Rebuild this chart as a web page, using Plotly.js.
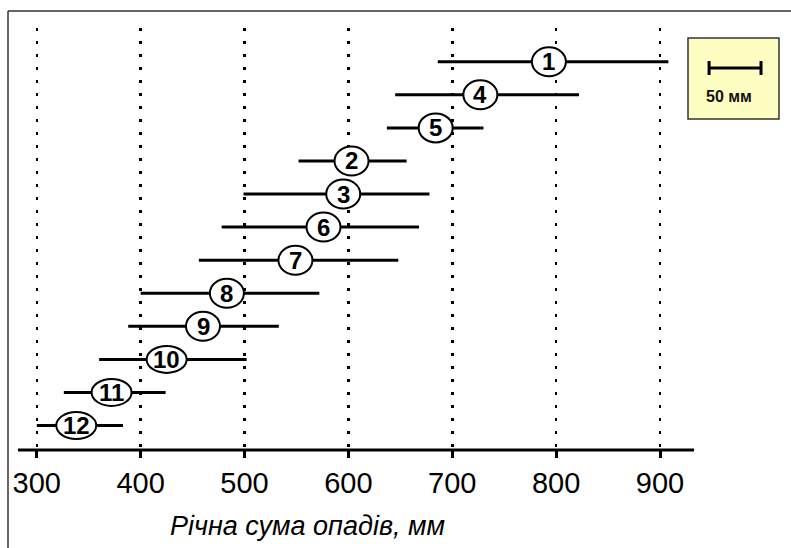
<!DOCTYPE html>
<html>
<head>
<meta charset="utf-8">
<script src="https://cdn.plot.ly/plotly-3.0.1.min.js"></script>
<style>html,body{margin:0;padding:0;background:#fff;}#chart{width:791px;height:548px;}</style>
</head>
<body>
<div id="chart"></div>
<script>
// ---- data, top row first ----
const stationLabels = ["1","4","5","2","3","6","7","8","9","10","11","12"];
const lowMM  = [686, 645, 637, 552, 499, 478, 456, 400, 388, 360, 326, 300];
const meanMM = [793, 727, 684, 603, 595, 576, 549, 483, 460, 425, 372, 338];
const highMM = [908, 822, 730, 656, 678, 668, 648, 572, 533, 502, 424, 383];
const rowRank = [1, 2, 3, 4, 5, 6, 7, 8, 9, 10, 11, 12];
const tickValues = [300, 400, 500, 600, 700, 800, 900];
const tickLabels = ["300", "400", "500", "600", "700", "800", "900"];
const scaleBarMM = 50;
const scaleBarLabel = "50 мм";
const axisTitle = "Річна сума опадів, мм";

// ---- layout geometry ----
const W = 791, H = 548;
const mL = 18, mR = 9, mT = 28, mB = 98;
const plotW = W - mL - mR, plotH = H - mT - mB;
const xRange = [281.9, 1017.4];
const yRange = [12.74, -0.02];
const px2paperX = p => (p - mL) / plotW;
const py2paperY = p => (H - mB - p) / plotH;
const FONT = "Liberation Sans, Arial, sans-serif";

// bars: line segments lo..hi
const barX = [], barY = [];
for (let i = 0; i < stationLabels.length; i++) {
  barX.push(lowMM[i], highMM[i], null);
  barY.push(rowRank[i], rowRank[i], null);
}

const traces = [{
  type: "scatter", mode: "lines", x: barX, y: barY,
  line: {color: "#000", width: 3}, hoverinfo: "skip", showlegend: false
}];

const shapes = [];
const annotations = [];
for (let i = 0; i < stationLabels.length; i++) {
  const two = stationLabels[i].length > 1;
  const hw = two ? 20 : 17, hh = two ? 13.5 : 14.5;
  shapes.push({
    type: "circle", xref: "x", yref: "y", xsizemode: "pixel", ysizemode: "pixel",
    xanchor: meanMM[i], yanchor: rowRank[i], x0: -hw, x1: hw, y0: -hh, y1: hh,
    fillcolor: "#fff", line: {color: "#000", width: 2}, layer: "above"
  });
  annotations.push({
    x: meanMM[i], y: rowRank[i], xref: "x", yref: "y", showarrow: false,
    xanchor: "center", yanchor: "middle",
    text: "<b>" + stationLabels[i] + "</b>",
    font: {family: FONT, size: 24, color: "#000"}
  });
}

// x axis line (ends short of the plot's right edge)
shapes.push({type: "line", xref: "x", yref: "paper", x0: xRange[0], x1: 932.7, y0: 0, y1: 0,
  line: {color: "#000", width: 3}, layer: "above"});
// outer frame (left and top)
shapes.push({type: "line", xref: "paper", yref: "paper", x0: px2paperX(8), x1: px2paperX(8),
  y0: py2paperY(11), y1: py2paperY(548), line: {color: "#333", width: 1.5}});
shapes.push({type: "line", xref: "paper", yref: "paper", x0: px2paperX(8), x1: px2paperX(791),
  y0: py2paperY(11), y1: py2paperY(11), line: {color: "#333", width: 1.5}});
// scale legend box
shapes.push({type: "rect", xref: "paper", yref: "paper", x0: px2paperX(688), x1: px2paperX(779),
  y0: py2paperY(119), y1: py2paperY(38), fillcolor: "#FFFEC2", line: {color: "#333", width: 1.5}, layer: "above"});
const sbC = 972.2, sbY = py2paperY(68), cap = 7 / plotH;
shapes.push({type: "line", xref: "x", yref: "paper", x0: sbC - scaleBarMM / 2, x1: sbC + scaleBarMM / 2,
  y0: sbY, y1: sbY, line: {color: "#000", width: 3}, layer: "above"});
shapes.push({type: "line", xref: "x", yref: "paper", x0: sbC - scaleBarMM / 2, x1: sbC - scaleBarMM / 2,
  y0: sbY - cap, y1: sbY + cap, line: {color: "#000", width: 3}, layer: "above"});
shapes.push({type: "line", xref: "x", yref: "paper", x0: sbC + scaleBarMM / 2, x1: sbC + scaleBarMM / 2,
  y0: sbY - cap, y1: sbY + cap, line: {color: "#000", width: 3}, layer: "above"});
annotations.push({xref: "x", yref: "paper", x: 966.4, y: py2paperY(97), showarrow: false,
  xanchor: "center", yanchor: "middle",
  text: "<b>" + scaleBarLabel + "</b>", font: {family: FONT, size: 16, color: "#111"}});
// axis title
annotations.push({xref: "x", yref: "paper", x: 561, y: py2paperY(526), showarrow: false,
  xanchor: "center", yanchor: "middle",
  text: "<i>" + axisTitle + "</i>", font: {family: FONT, size: 27, color: "#000"}});

const layout = {
  width: W, height: H,
  margin: {l: mL, r: mR, t: mT, b: mB, pad: 0},
  paper_bgcolor: "#fff", plot_bgcolor: "#fff",
  showlegend: false,
  xaxis: {
    range: xRange, tickmode: "array", tickvals: tickValues, ticktext: tickLabels,
    ticks: "outside", ticklen: 7, tickwidth: 3, tickcolor: "#000",
    tickfont: {family: FONT, size: 29, color: "#000"},
    showline: false, zeroline: false,
    showgrid: true, gridcolor: "#000", gridwidth: 2.5, griddash: "3px,10px",
    fixedrange: true
  },
  yaxis: {
    range: yRange, showgrid: false, zeroline: false, showticklabels: false,
    ticks: "", showline: false, fixedrange: true
  },
  shapes: shapes,
  annotations: annotations
};

Plotly.newPlot("chart", traces, layout, {displayModeBar: false, staticPlot: true});
</script>
</body>
</html>
